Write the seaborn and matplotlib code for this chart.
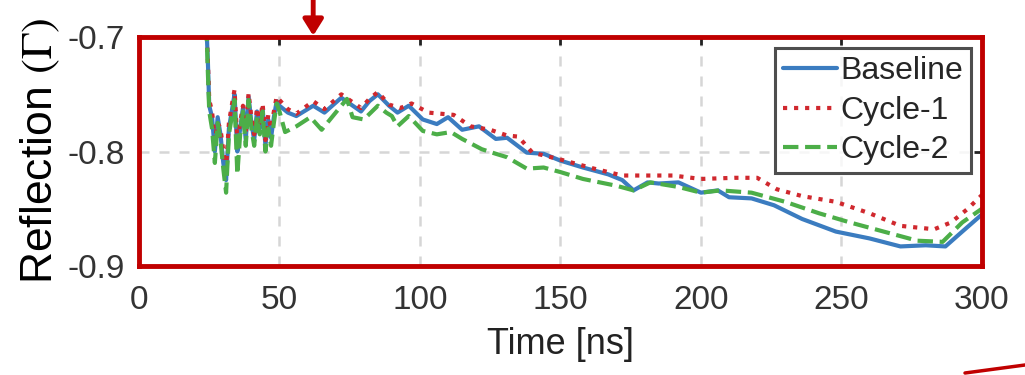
import matplotlib
matplotlib.use("Agg")
import matplotlib.pyplot as plt
import seaborn as sns
import pandas as pd
from matplotlib.lines import Line2D

# values
base_t = [24, 24.5, 25, 26, 27, 28, 29, 30, 31, 32, 33, 34, 35, 36, 37, 38, 39, 40, 41, 42,
          43, 44, 45, 46, 47, 48, 49, 50, 53, 56, 62, 66, 72, 79, 82, 85, 89, 92, 96, 101,
          106, 110, 115, 121, 127, 131, 138, 144, 150, 158, 167, 172, 176, 181, 185, 192,
          200, 206, 210, 218, 226, 236, 248, 260, 271, 280, 287, 293, 300]
base_v = [-0.69, -0.72, -0.76, -0.77, -0.80, -0.77, -0.785, -0.81, -0.825, -0.78, -0.765,
          -0.75, -0.80, -0.78, -0.762, -0.79, -0.752, -0.775, -0.79, -0.765, -0.78, -0.762,
          -0.795, -0.772, -0.788, -0.77, -0.756, -0.76, -0.766, -0.769, -0.760, -0.766,
          -0.753, -0.765, -0.756, -0.750, -0.760, -0.766, -0.760, -0.772, -0.776, -0.770,
          -0.781, -0.778, -0.789, -0.788, -0.801, -0.802, -0.808, -0.814, -0.820, -0.825,
          -0.834, -0.827, -0.828, -0.827, -0.836, -0.834, -0.840, -0.841, -0.847, -0.859,
          -0.870, -0.876, -0.883, -0.882, -0.883, -0.870, -0.855]

cyc1_t = [24, 24.5, 25, 26, 27, 28, 29, 30, 31, 32, 33, 34, 35, 36, 37, 38, 39, 40, 41, 42,
          43, 44, 45, 46, 47, 48, 49, 50, 53, 56, 62, 66, 72, 79, 82, 85, 89, 93, 97, 103,
          112, 118, 125, 131, 135, 140, 150, 162, 172, 180, 190, 200, 212, 220, 227, 236,
          248, 260, 271, 283, 289, 295, 300]
cyc1_v = [-0.69, -0.72, -0.755, -0.765, -0.79, -0.775, -0.78, -0.80, -0.815, -0.775, -0.76,
          -0.746, -0.79, -0.775, -0.76, -0.785, -0.749, -0.77, -0.785, -0.762, -0.775,
          -0.758, -0.79, -0.768, -0.78, -0.765, -0.752, -0.755, -0.763, -0.767, -0.756,
          -0.763, -0.750, -0.762, -0.754, -0.748, -0.759, -0.762, -0.758, -0.766, -0.768,
          -0.778, -0.781, -0.786, -0.787, -0.801, -0.807, -0.815, -0.821, -0.821, -0.821,
          -0.824, -0.823, -0.823, -0.833, -0.839, -0.844, -0.854, -0.865, -0.868, -0.862,
          -0.850, -0.838]

cyc2_t = [24, 24.5, 25, 26, 27, 28, 29, 30, 31, 32, 33, 34, 35, 36, 37, 38, 39, 40, 41, 42,
          43, 44, 45, 46, 47, 48, 49, 50, 52, 56, 61, 65, 70, 74, 76, 80, 85, 88, 90, 92,
          96, 101, 106, 111, 115, 122, 127, 131, 138, 144, 150, 158, 170, 176, 182, 192,
          200, 207, 218, 230, 242, 253, 265, 277, 286, 293, 300]
cyc2_v = [-0.69, -0.73, -0.765, -0.78, -0.81, -0.775, -0.79, -0.815, -0.836, -0.785, -0.77,
          -0.755, -0.82, -0.785, -0.765, -0.795, -0.755, -0.78, -0.795, -0.77, -0.785,
          -0.765, -0.80, -0.78, -0.795, -0.775, -0.758, -0.765, -0.783, -0.778, -0.770,
          -0.781, -0.766, -0.754, -0.770, -0.772, -0.760, -0.766, -0.769, -0.778, -0.769,
          -0.782, -0.785, -0.783, -0.789, -0.798, -0.802, -0.805, -0.815, -0.814, -0.818,
          -0.824, -0.830, -0.834, -0.827, -0.831, -0.836, -0.834, -0.836, -0.844, -0.854,
          -0.862, -0.870, -0.878, -0.879, -0.862, -0.850]

x_ticks = [0, 50, 100, 150, 200, 250, 300]
y_ticks = [-0.9, -0.8, -0.7]

sns.set_theme(style="white")
plt.rcParams["font.family"] = ["Liberation Sans", "DejaVu Sans"]
plt.rcParams["mathtext.fontset"] = "stix"

fig = plt.figure(figsize=(10.25, 3.75), dpi=100)
ax = fig.add_axes([0.1356, 0.291, 0.8224, 0.610])

series = [
    ("Baseline", base_t, base_v, "#3b7cc0", "-"),
    ("Cycle-1", cyc1_t, cyc1_v, "#d0282e", ":"),
    ("Cycle-2", cyc2_t, cyc2_v, "#4cae48", "--"),
]
for name, t, v, col, ls in series:
    df = pd.DataFrame({"t": t, "v": v})
    sns.lineplot(data=df, x="t", y="v", ax=ax, color=col, linestyle=ls, lw=3.0,
                 estimator=None, sort=False, label=name)

ax.set_xlim(0, 300)
ax.set_ylim(-0.9, -0.7)
ax.set_xticks(x_ticks)
ax.set_yticks(y_ticks)
ax.set_yticklabels([f"{y:.1f}" for y in y_ticks])
ax.grid(True, linestyle=(0, (4, 4)), color="#d6d6d6", lw=1.8)
ax.tick_params(direction="in", length=6, width=2, color="#222222", labelsize=24,
               labelcolor="#333333", top=True, right=True)
ax.tick_params(axis="x", pad=14)
ax.tick_params(axis="y", pad=10)
for s in ax.spines.values():
    s.set_color("#c00000")
    s.set_linewidth(3.5)
    s.set_zorder(5)

ax.set_xlabel("Time [ns]", fontsize=26, color="#222222", labelpad=8)
ax.set_ylabel(r"Reflection $(\Gamma)$", fontsize=32, color="black", labelpad=4)

leg = ax.legend(loc="upper right", fontsize=23, handlelength=1.7, handletextpad=0.1,
                borderpad=0.25, labelspacing=0.3, borderaxespad=0.35, frameon=True,
                fancybox=False)
leg.get_frame().set_edgecolor("#222222")
leg.get_frame().set_linewidth(2.2)

# red annotation arrow above the frame
ax.annotate("", xy=(62, -0.7), xycoords="data", xytext=(62, 1.0),
            textcoords=("data", "figure fraction"), annotation_clip=False,
            arrowprops=dict(arrowstyle="-|>,head_width=0.5,head_length=0.8",
                            color="#c00000", lw=3.5, shrinkA=0, shrinkB=1))
fig.add_artist(Line2D([965 / 1025, 1.0], [2 / 375, 10 / 375], color="#c00000", lw=2.5))

fig.savefig("out.png", dpi=100)
